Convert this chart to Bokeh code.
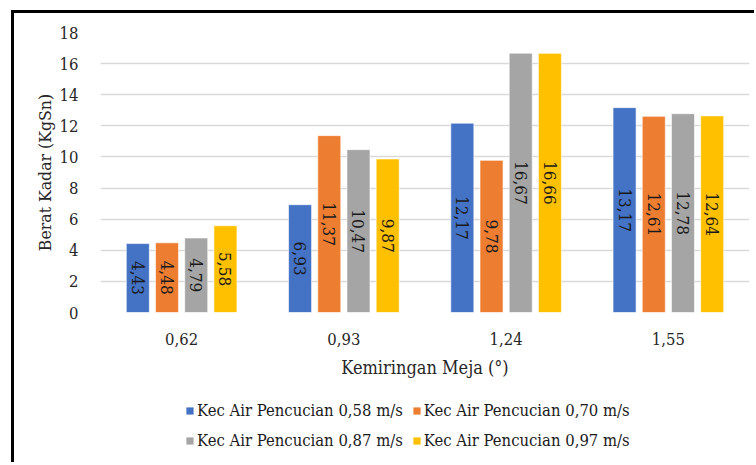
import math
from bokeh.plotting import figure
from bokeh.layouts import column
from bokeh.models import ColumnDataSource, Legend, LegendItem, FixedTicker, Range1d
from bokeh.transform import dodge
from bokeh.core.properties import value
from bokeh.embed import file_html
from bokeh.resources import INLINE

categories = ["0,62", "0,93", "1,24", "1,55"]
series_names = ["Kec Air Pencucian 0,58 m/s", "Kec Air Pencucian 0,70 m/s",
                "Kec Air Pencucian 0,87 m/s", "Kec Air Pencucian 0,97 m/s"]
s058 = [4.43, 6.93, 12.17, 13.17]
s070 = [4.48, 11.37, 9.78, 12.61]
s087 = [4.79, 10.47, 16.67, 12.78]
s097 = [5.58, 9.87, 16.66, 12.64]
y_ticks = [0, 2, 4, 6, 8, 10, 12, 14, 16, 18]

colors = ["#4472C4", "#ED7D31", "#A5A5A5", "#FFC000"]
offsets = [-0.27, -0.09, 0.09, 0.27]
FONT = "DejaVu Serif Condensed"

p = figure(x_range=categories, y_range=Range1d(0, 18), frame_width=649, frame_height=280,
           output_backend="svg", toolbar_location=None,
           min_border_left=86, min_border_right=5, min_border_top=19, min_border_bottom=80)
p.outline_line_color = None
p.background_fill_color = "white"

for vals, col, off in zip([s058, s070, s087, s097], colors, offsets):
    src = ColumnDataSource(dict(cat=categories, val=vals,
                                half=[v / 2 for v in vals],
                                lab=[("%.2f" % v).replace(".", ",") for v in vals]))
    p.vbar(x=dodge("cat", off, range=p.x_range), top="val", width=0.142, source=src,
           fill_color=col, line_color="white", line_width=0.6)
    p.text(x=dodge("cat", off, range=p.x_range), y="half", text="lab", source=src,
           angle=-math.pi / 2, text_align="center", text_baseline="middle",
           text_font=value(FONT), text_font_size="17px", text_color="#1a1a1a")

p.yaxis.ticker = FixedTicker(ticks=y_ticks)
p.ygrid.grid_line_color = "#D9D9D9"
p.ygrid.grid_line_width = 1.3
p.xgrid.grid_line_color = None
for ax in (p.xaxis[0], p.yaxis[0]):
    ax.axis_line_color = None
    ax.major_tick_line_color = None
    ax.minor_tick_line_color = None
    ax.major_label_text_font = FONT
    ax.major_label_text_font_size = "16.5px"
    ax.major_label_text_color = "#262626"
    ax.axis_label_text_font = FONT
    ax.axis_label_text_font_style = "normal"
    ax.axis_label_text_color = "#262626"
p.yaxis.axis_label = "Berat Kadar (KgSn)"
p.yaxis.axis_label_text_font_size = "17.5px"
p.yaxis.major_label_standoff = 16
p.yaxis.axis_label_standoff = 2
p.xaxis.axis_label = "Kemiringan Meja (°)"
p.xaxis.axis_label_text_font_size = "18px"
p.xaxis.major_label_standoff = 14
p.xaxis.axis_label_standoff = 9

# legend panel below the chart (proxy renderers of zero height, only for the legend swatches)
lf = figure(x_range=Range1d(0, 1), y_range=Range1d(0, 1), frame_width=740, frame_height=70,
            output_backend="svg", toolbar_location=None,
            x_axis_location=None, y_axis_location=None, min_border=0)
lf.outline_line_color = None
lf.xgrid.grid_line_color = None
lf.ygrid.grid_line_color = None

items = []
for name, col in zip(series_names, colors):
    proxy = ColumnDataSource(dict(x=[0], top=[0]))
    r = lf.vbar(x="x", top="top", width=0.0, source=proxy, fill_color=col, line_color=None)
    items.append(LegendItem(label=name, renderers=[r]))

for row_items, ypos in [([items[0], items[1]], 42), ([items[2], items[3]], 12)]:
    lg = Legend(items=row_items, orientation="horizontal", location=(171, ypos),
                label_text_font=FONT, label_text_font_size="16.5px", label_text_color="#1a1a1a",
                glyph_width=9, glyph_height=9, label_standoff=3, spacing=9,
                label_width=204, label_height=20,
                border_line_color=None, background_fill_alpha=0,
                margin=0, padding=0)
    lf.add_layout(lg, "center")

layout = column(p, lf, spacing=0)
layout.styles = {"border-left": "3px solid black", "border-top": "3px solid black",
                 "margin-left": "11px", "margin-top": "10px"}

open("out.html", "w").write(file_html(layout, INLINE))
